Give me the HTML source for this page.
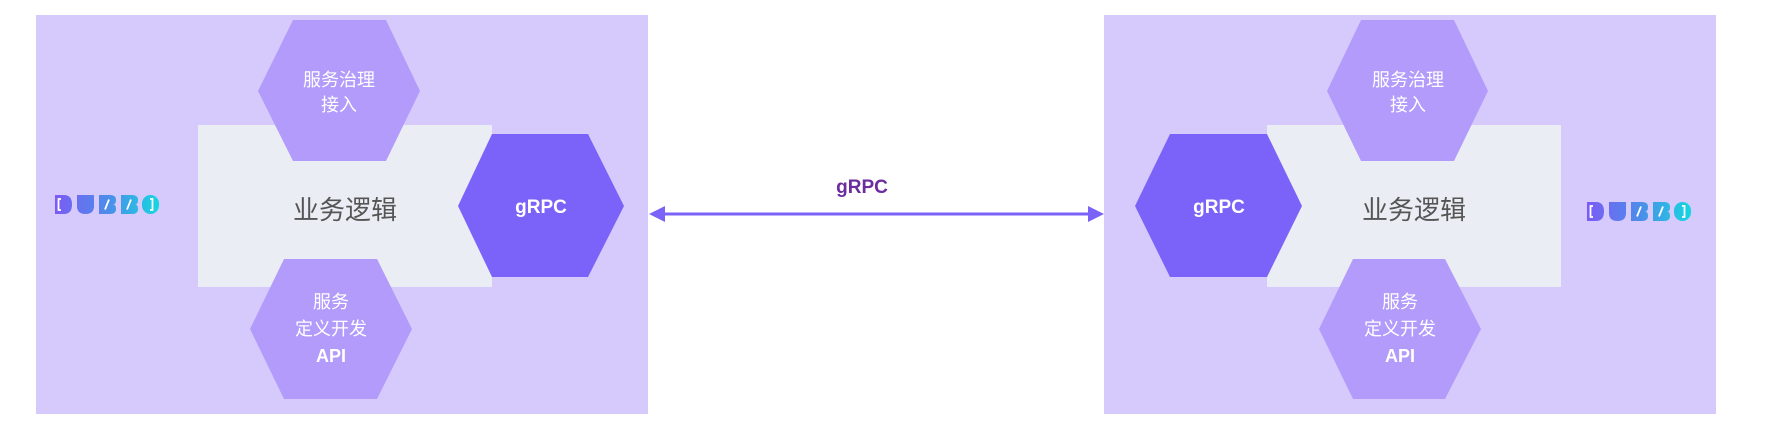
<!DOCTYPE html>
<html><head><meta charset="utf-8"><style>
html,body{margin:0;padding:0;background:#fff;width:1781px;height:427px;overflow:hidden}
svg text{font-family:"Liberation Sans","Noto Sans CJK SC",sans-serif}
</style></head><body>
<svg width="1781" height="427" viewBox="0 0 1781 427" xmlns="http://www.w3.org/2000/svg">
<defs>
<linearGradient id="dg" gradientUnits="userSpaceOnUse" x1="0" x2="104" y1="0" y2="0"><stop offset="0" stop-color="#7B5CF5"/><stop offset="0.5" stop-color="#4E8BEA"/><stop offset="1" stop-color="#16D6E0"/></linearGradient>
<g id="logo">
<path d="M0 0H9Q17 0 17 9.5Q17 19 9 19H0Z" fill="url(#dg)"/>
<path d="M22 0H39V11Q39 19 30.5 19Q22 19 22 11Z" fill="url(#dg)"/>
<path d="M44 0H55Q61 0 61 5Q61 9.5 58 9.5Q61 9.5 61 14Q61 19 55 19H44Z" fill="url(#dg)"/>
<path d="M66 0H77Q83 0 83 5Q83 9.5 80 9.5Q83 9.5 83 14Q83 19 77 19H66Z" fill="url(#dg)"/>
<rect x="87" y="0" width="17" height="19" rx="8.5" fill="url(#dg)"/>
<path d="M6 4H3.5V15H6" stroke="#fff" stroke-width="1.8" fill="none"/>
<path d="M50 14.5L54 4.5M72 14.5L76 4.5" stroke="#fff" stroke-width="1.8"/>
<path d="M95 4H97.5V15H95" stroke="#fff" stroke-width="1.8" fill="none"/>
</g>
</defs>
<rect x="36" y="15" width="612" height="399" fill="#D6CAFD"/>
<rect x="1104" y="15" width="612" height="399" fill="#D6CAFD"/>
<rect x="198" y="125" width="294" height="162" fill="#EAEEF4"/>
<rect x="1267" y="125" width="294" height="162" fill="#EAEEF4"/>
<polygon points="258,91 293,20 386,20 420,91 386,161 293,161" fill="#B29BFB"/>
<polygon points="250,329 284,259 377,259 412,329 377,399 284,399" fill="#B29BFB"/>
<polygon points="458,206 492,134 588,134 624,206 588,277 492,277" fill="#7B63F9"/>
<polygon points="1327,91 1361,20 1454,20 1488,91 1454,161 1361,161" fill="#B29BFB"/>
<polygon points="1319,329 1353,259 1445,259 1481,329 1445,399 1353,399" fill="#B29BFB"/>
<polygon points="1135,206 1170,134 1267,134 1302,206 1267,277 1170,277" fill="#7B63F9"/>
<line x1="660" y1="214" x2="1092" y2="214" stroke="#7B63F9" stroke-width="3"/>
<polygon points="649,214 665,206 665,222" fill="#7B63F9"/>
<polygon points="1104,214 1088,206 1088,222" fill="#7B63F9"/>
<text x="862" y="193" font-size="19" font-weight="bold" fill="#6A2C9E" text-anchor="middle">gRPC</text>
<g fill="#fff" font-size="18" text-anchor="middle">
<text x="339" y="86">服务治理</text><text x="339" y="111">接入</text>
<text x="331" y="308">服务</text><text x="331" y="335">定义开发</text><text x="331" y="362" font-weight="bold">API</text>
<text x="541" y="213" font-weight="bold" font-size="19">gRPC</text>
<text x="1408" y="86">服务治理</text><text x="1408" y="111">接入</text>
<text x="1400" y="308">服务</text><text x="1400" y="335">定义开发</text><text x="1400" y="362" font-weight="bold">API</text>
<text x="1219" y="213" font-weight="bold" font-size="19">gRPC</text>
</g>
<text x="345" y="219" font-size="26" fill="#555" text-anchor="middle">业务逻辑</text>
<text x="1414" y="219" font-size="26" fill="#555" text-anchor="middle">业务逻辑</text>
<use href="#logo" x="55" y="195"/>
<use href="#logo" x="1587" y="202"/>
</svg>
</body></html>
